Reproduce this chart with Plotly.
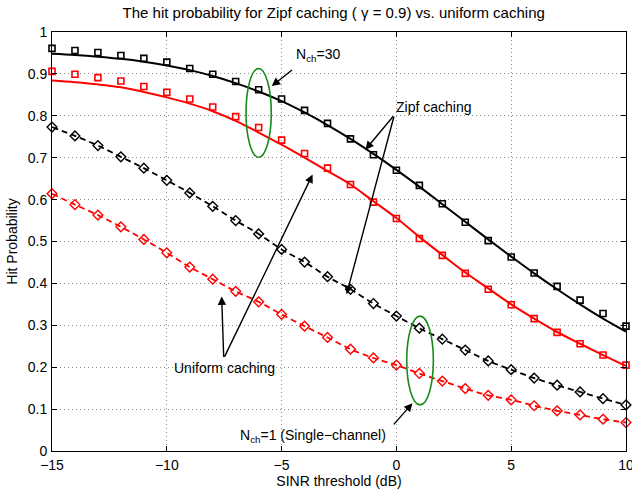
import plotly.graph_objects as go

sinr_db = list(range(-15, 11))

# Zipf caching, N_ch = 30 (analytic curve and simulation squares)
zipf30_analytic = [0.948, 0.945, 0.941, 0.936, 0.929, 0.920, 0.909, 0.895, 0.878, 0.858,
                   0.835, 0.808, 0.778, 0.745, 0.709, 0.671, 0.631, 0.589, 0.547, 0.505,
                   0.464, 0.424, 0.386, 0.350, 0.316, 0.285]
zipf30_sim = [0.961, 0.956, 0.951, 0.944, 0.937, 0.928, 0.913, 0.899, 0.882, 0.862,
              0.840, 0.813, 0.782, 0.745, 0.707, 0.670, 0.634, 0.590, 0.546, 0.502,
              0.463, 0.425, 0.393, 0.360, 0.328, 0.298]

# Zipf caching, N_ch = 1
zipf1_analytic = [0.884, 0.880, 0.875, 0.868, 0.857, 0.844, 0.829, 0.811, 0.788, 0.760,
                  0.731, 0.700, 0.668, 0.636, 0.596, 0.556, 0.511, 0.468, 0.426, 0.388,
                  0.350, 0.316, 0.284, 0.256, 0.229, 0.203]
zipf1_sim = [0.906, 0.899, 0.891, 0.883, 0.870, 0.856, 0.840, 0.821, 0.798, 0.772,
             0.742, 0.710, 0.675, 0.636, 0.594, 0.555, 0.507, 0.467, 0.424, 0.386,
             0.349, 0.316, 0.283, 0.256, 0.229, 0.205]

# Uniform caching, N_ch = 30
unif30_sim = [0.773, 0.752, 0.729, 0.702, 0.675, 0.646, 0.616, 0.584, 0.550, 0.518,
              0.481, 0.451, 0.416, 0.386, 0.352, 0.322, 0.293, 0.267, 0.241, 0.215,
              0.194, 0.174, 0.157, 0.141, 0.125, 0.110]

# Uniform caching, N_ch = 1
unif1_sim = [0.614, 0.588, 0.563, 0.535, 0.505, 0.473, 0.439, 0.410, 0.381, 0.356,
             0.326, 0.298, 0.271, 0.243, 0.222, 0.205, 0.185, 0.167, 0.149, 0.133,
             0.122, 0.108, 0.096, 0.086, 0.076, 0.068]

BLACK = "#000000"
RED = "#ff0000"
GREEN = "#1a8a1a"
FONT = "Liberation Sans, Arial, Helvetica, sans-serif"

fig = go.Figure()

# analytic lines
fig.add_trace(go.Scatter(x=sinr_db, y=zipf30_analytic, mode="lines", line=dict(color=BLACK, width=2, shape="spline"), showlegend=False))
fig.add_trace(go.Scatter(x=sinr_db, y=zipf1_analytic, mode="lines", line=dict(color=RED, width=2, shape="spline"), showlegend=False))
fig.add_trace(go.Scatter(x=sinr_db, y=unif30_sim, mode="lines", line=dict(color=BLACK, width=1.8, dash="6px,4px", shape="spline"), showlegend=False))
fig.add_trace(go.Scatter(x=sinr_db, y=unif1_sim, mode="lines", line=dict(color=RED, width=1.8, dash="6px,4px", shape="spline"), showlegend=False))

# simulation markers
fig.add_trace(go.Scatter(x=sinr_db, y=zipf30_sim, mode="markers", cliponaxis=False,
                         marker=dict(symbol="square-open", size=6, color=BLACK, line=dict(width=1.6)), showlegend=False))
fig.add_trace(go.Scatter(x=sinr_db, y=zipf1_sim, mode="markers", cliponaxis=False,
                         marker=dict(symbol="square-open", size=6, color=RED, line=dict(width=1.6)), showlegend=False))
fig.add_trace(go.Scatter(x=sinr_db, y=unif30_sim, mode="markers", cliponaxis=False,
                         marker=dict(symbol="diamond-open", size=7.5, color=BLACK, line=dict(width=1.4)), showlegend=False))
fig.add_trace(go.Scatter(x=sinr_db, y=unif1_sim, mode="markers", cliponaxis=False,
                         marker=dict(symbol="diamond-open", size=7.5, color=RED, line=dict(width=1.4)), showlegend=False))

# ellipses
fig.add_shape(type="circle", xref="x", yref="y", x0=-6.55, x1=-5.45, y0=0.701, y1=0.913,
              line=dict(color=GREEN, width=1.6))
fig.add_shape(type="circle", xref="x", yref="y", x0=0.45, x1=1.61, y0=0.110, y1=0.322,
              line=dict(color=GREEN, width=1.6))

tfont = dict(family=FONT, size=14, color=BLACK)

def arrow(tail, tip):
    fig.add_annotation(x=tip[0], y=tip[1], ax=tail[0], ay=tail[1], xref="x", yref="y",
                       axref="x", ayref="y", text="", showarrow=True, arrowhead=2,
                       arrowsize=1.2, arrowwidth=1.4, arrowcolor=BLACK, standoff=0, startstandoff=0)

def label(pos, txt):
    fig.add_annotation(x=pos[0], y=pos[1], xref="x", yref="y", text=txt, showarrow=False, font=tfont)

label((-3.43, 0.945), "N<sub>ch</sub>=30")
arrow((-4.48, 0.912), (-5.43, 0.871))

label((1.61, 0.821), "Zipf caching")
arrow((-0.09, 0.802), (-1.35, 0.719))
arrow((-0.09, 0.802), (-2.17, 0.374))

label((-7.48, 0.198), "Uniform caching")
arrow((-7.52, 0.221), (-7.61, 0.369))
arrow((-7.52, 0.221), (-3.65, 0.660))

label((-3.63, 0.036), "N<sub>ch</sub>=1 (Single\u2212channel)")
arrow((-0.17, 0.060), (0.70, 0.114))

axis_common = dict(showline=True, linecolor=BLACK, linewidth=1, mirror="ticks", ticks="inside",
                   ticklen=5, tickcolor=BLACK, showgrid=True, gridcolor="#8c8c8c", griddash="1px,3px",
                   gridwidth=1, zeroline=False, automargin=False, ticklabeloverflow="allow",
                   tickfont=dict(family=FONT, size=14, color=BLACK))

fig.update_xaxes(range=[-15, 10], dtick=5, tick0=-15, ticklabelstandoff=1,
                 title=dict(text="SINR threshold (dB)", font=dict(family=FONT, size=14, color=BLACK), standoff=1),
                 **axis_common)
fig.update_yaxes(range=[0, 1], dtick=0.1, tick0=0, ticklabelstandoff=1,
                 title=dict(text="Hit Probability", font=dict(family=FONT, size=14, color=BLACK), standoff=6),
                 **axis_common)

fig.update_layout(
    width=632, height=490,
    margin=dict(l=52, r=6, t=32, b=39),
    paper_bgcolor="white", plot_bgcolor="white",
    title=dict(text="The hit probability for Zipf caching ( \u03b3 = 0.9) vs. uniform caching",
               x=0.528, xanchor="center", y=0.973, yanchor="middle",
               font=dict(family=FONT, size=15, color=BLACK)),
    showlegend=False,
)

fig.write_html("out.html", config={"displayModeBar": False},
               post_script="document.body.style.margin='0';document.body.style.overflow='hidden';")
